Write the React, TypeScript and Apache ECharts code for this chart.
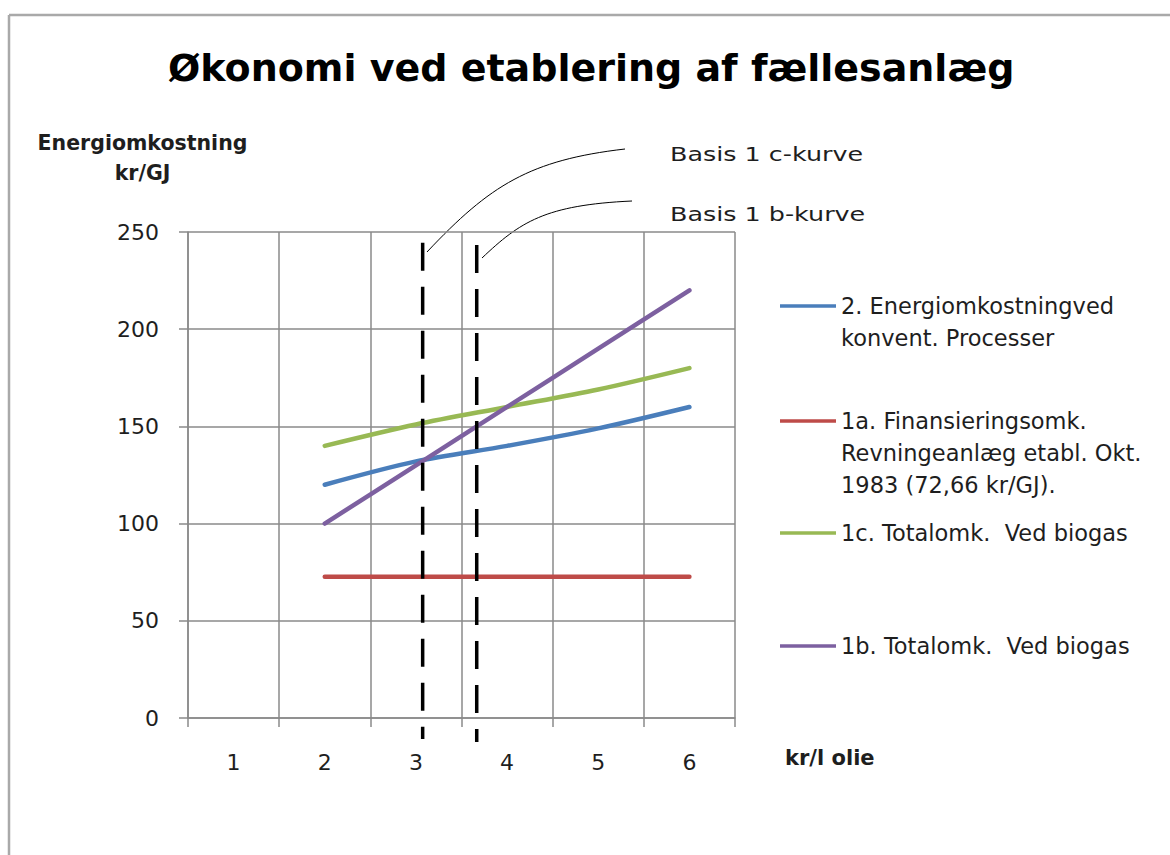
import React, { useEffect, useRef } from 'react';
import * as echarts from 'echarts';

const titleText = 'Økonomi ved etablering af fællesanlæg';
const yAxisName = 'Energiomkostning\nkr/GJ';
const xAxisName = 'kr/l olie';
const categories = ['1', '2', '3', '4', '5', '6'];

const nameBlue = '2. Energiomkostningved\nkonvent. Processer';
const nameRed = '1a. Finansieringsomk.\nRevningeanlæg etabl. Okt.\n1983 (72,66 kr/GJ).';
const nameGreen = '1c. Totalomk.  Ved biogas';
const namePurple = '1b. Totalomk.  Ved biogas';

const blueValues = [null, 120, 132, 140, 149, 160];
const redValues = [null, 72.66, 72.66, 72.66, 72.66, 72.66];
const greenValues = [null, 140, 151, 160, 169, 180];
const purpleValues = [null, 100, 130, 160, 190, 220];

// dashed reference lines (x in category units, y in kr/GJ)
const basisCLine = [[3.074, 244.5], [3.074, -10.8]];
const basisBLine = [[3.667, 243.3], [3.667, -12.3]];
const basisCLabel = 'Basis 1 c-kurve';
const basisBLabel = 'Basis 1 b-kurve';

const FONT = 'DejaVu Sans';
const TXT = '#1e1e1e';
const GRID = '#8a8a8a';

export default function App() {
  const ref = useRef<HTMLDivElement>(null);
  useEffect(() => {
    document.body.style.margin = '0';
    const chart = echarts.init(ref.current!, null, { renderer: 'svg' });
    const L = 32;
    const mkLegend = (name: string, iconY: number) => {
      const n = name.split('\n').length;
      const total = (2 * n - 1) * L;
      return {
        data: [name],
        left: 780,
        top: iconY - total / 2,
        padding: 0,
        orient: 'vertical',
        icon: 'rect',
        itemWidth: 56,
        itemHeight: 3.5,
        selectedMode: false,
        formatter: (nm: string) => '\n'.repeat(n - 1) + nm,
        textStyle: {
          fontFamily: FONT,
          fontSize: 22.5,
          color: TXT,
          lineHeight: L,
        },
      };
    };
    const lineSeries = (name: string, data: any[], color: string) => ({
      name,
      type: 'line',
      data,
      symbol: 'none',
      smooth: 0.3,
      color,
      lineStyle: { width: 4.5, color, cap: 'round' },
      z: 3,
    });
    const dashSeries = (data: number[][]) => ({
      type: 'line',
      xAxisIndex: 1,
      data,
      symbol: 'none',
      clip: false,
      silent: true,
      color: '#000',
      lineStyle: { width: 3.5, color: '#000', type: [28, 16] },
      z: 4,
    });
    chart.setOption({
      animation: false,
      backgroundColor: '#fff',
      title: {
        text: titleText,
        left: 163,
        top: 44,
        textStyle: { fontFamily: FONT, fontWeight: 'bold', fontSize: 38, color: '#000' },
      },
      grid: { left: 188, right: 435, top: 232, bottom: 137 },
      legend: [
        mkLegend(nameBlue, 306),
        mkLegend(nameRed, 421),
        mkLegend(nameGreen, 533),
        mkLegend(namePurple, 646),
      ],
      xAxis: [
        {
          type: 'category',
          data: categories,
          boundaryGap: true,
          name: xAxisName,
          nameLocation: 'end',
          nameGap: 50,
          nameTextStyle: {
            fontFamily: FONT,
            fontWeight: 'bold',
            fontSize: 21,
            color: TXT,
            verticalAlign: 'top',
            lineHeight: 80,
          },
          axisLine: { lineStyle: { color: GRID, width: 1.5 } },
          axisTick: { show: true, length: 9, lineStyle: { color: GRID, width: 1.5 } },
          axisLabel: { fontFamily: FONT, fontSize: 22, color: TXT, margin: 33 },
          splitLine: { show: true, lineStyle: { color: GRID, width: 1.5 } },
        },
        { type: 'value', min: 0.5, max: 6.5, show: false },
      ],
      yAxis: {
        type: 'value',
        min: 0,
        max: 250,
        interval: 50,
        name: yAxisName,
        nameLocation: 'end',
        nameGap: 44,
        nameTextStyle: {
          fontFamily: FONT,
          fontWeight: 'bold',
          fontSize: 20.5,
          color: TXT,
          lineHeight: 30,
          align: 'center',
          padding: [0, 91, 0, 0],
        },
        axisLine: { show: true, lineStyle: { color: GRID, width: 1.5 } },
        axisTick: { show: true, length: 9, lineStyle: { color: GRID, width: 1.5 } },
        axisLabel: { fontFamily: FONT, fontSize: 22, color: TXT, margin: 29 },
        splitLine: { show: true, lineStyle: { color: GRID, width: 1.5 } },
      },
      series: [
        lineSeries(nameBlue, blueValues, '#4a7ebb'),
        lineSeries(nameRed, redValues, '#be4b48'),
        lineSeries(nameGreen, greenValues, '#98b954'),
        lineSeries(namePurple, purpleValues, '#7d60a0'),
        dashSeries(basisCLine),
        dashSeries(basisBLine),
      ],
      graphic: [
        { type: 'line', shape: { x1: 9, y1: 15, x2: 1170, y2: 15 }, style: { stroke: '#a9a9a9', lineWidth: 2.5 } },
        { type: 'line', shape: { x1: 9, y1: 15, x2: 9, y2: 855 }, style: { stroke: '#a9a9a9', lineWidth: 2.5 } },
        {
          type: 'bezierCurve',
          shape: { x1: 427, y1: 252, cpx1: 490, cpy1: 185, cpx2: 530, cpy2: 160, x2: 625, y2: 149 },
          style: { stroke: '#000', lineWidth: 1, fill: 'none' },
        },
        {
          type: 'bezierCurve',
          shape: { x1: 482, y1: 258, cpx1: 520, cpy1: 222, cpx2: 545, cpy2: 205, x2: 632, y2: 201 },
          style: { stroke: '#000', lineWidth: 1, fill: 'none' },
        },
        {
          type: 'text',
          x: 670,
          y: 154,
          scaleX: 1.27,
          style: { text: basisCLabel, fontFamily: FONT, fontSize: 20, fill: TXT, verticalAlign: 'middle' },
        },
        {
          type: 'text',
          x: 670,
          y: 214,
          scaleX: 1.27,
          style: { text: basisBLabel, fontFamily: FONT, fontSize: 20, fill: TXT, verticalAlign: 'middle' },
        },
      ],
    });
    return () => chart.dispose();
  }, []);
  return <div ref={ref} style={{ width: 1170, height: 855 }} />;
}
